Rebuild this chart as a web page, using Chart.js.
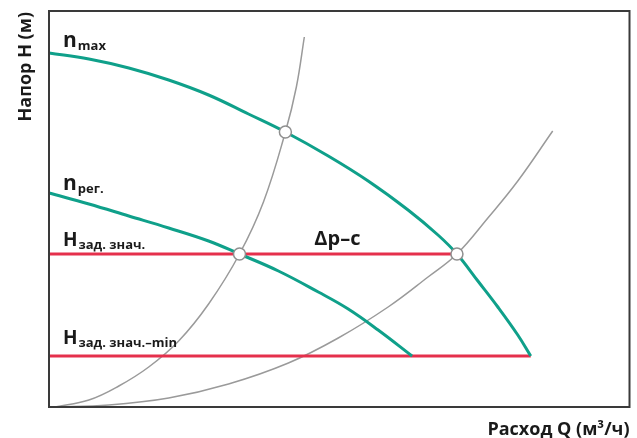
<!DOCTYPE html>
<html>
<head>
<meta charset="utf-8">
<script src="https://cdn.jsdelivr.net/npm/chart.js@4/dist/chart.umd.min.js"></script>
<style>
html,body{margin:0;padding:0;background:#fff;}
#wrap{width:637px;height:438px;position:relative;}
</style>
</head>
<body>
<div id="wrap"><canvas id="c" width="637" height="438"></canvas></div>
<script>
// Axis extents (arbitrary units, no ticks in the reference)
const xMax = 582;
const yMax = 396;

// Pump curve at maximum speed (n_max)
const nMaxQ = [0, 40, 80, 120, 160, 200, 237, 280, 320, 360, 390, 409, 430, 450, 470, 483];
const nMaxH = [354, 348, 339, 327, 312, 293, 275, 251, 226, 197, 172, 153, 126, 100, 72, 51];

// Pump curve at regulated speed (n_рег.)
const nRegQ = [0, 40, 80, 120, 160, 191, 230, 270, 300, 330, 364];
const nRegH = [214, 203, 191, 179, 166, 153, 136, 115, 98, 77, 51];

// System curve 1 (steep)
const sys1Q = [6, 40, 70, 100, 130, 160, 191, 215, 237, 248, 256];
const sys1H = [0, 7, 21, 40, 66, 103, 153, 205, 275, 320, 370];

// System curve 2 (flat)
const sys2Q = [4, 60, 120, 180, 240, 290, 340, 380, 409, 440, 470, 505];
const sys2H = [0, 2, 9, 23, 44, 69, 100, 130, 153, 189, 226, 276];

// Set-point lines
const hSetQ = [0, 409];
const hSet = 153;
const hMinQ = [0, 483];
const hMin = 51;

// Operating points
const opQ = [191, 237, 409];
const opH = [153, 275, 153];

// Labels
const labelNmax = ["n", "max"];
const labelNreg = ["n", "рег."];
const labelHset = ["H", "зад. знач."];
const labelHmin = ["H", "зад. знач.–min"];
const labelDp = "Δp–c";
const yTitle = "Напор H (м)";
const xTitle = "Расход Q (м³/ч)";

const zip = (xs, ys) => xs.map((x, i) => ({x: x, y: ys[i]}));
const flat = (xs, y) => xs.map(x => ({x: x, y: y}));

const GREEN = "#0fa08a";
const RED = "#e5304c";
const GRAY = "#9a9a9a";
const FONT = "'Open Sans', 'DejaVu Sans', sans-serif";

const textPlugin = {
  id: "texts",
  afterDraw(chart) {
    const ctx = chart.ctx;
    const a = chart.chartArea;
    const xs = chart.scales.x, ys = chart.scales.y;
    ctx.save();
    // frame
    ctx.strokeStyle = "#3a3a3a";
    ctx.lineWidth = 2;
    ctx.strokeRect(a.left, a.top, a.right - a.left, a.bottom - a.top);

    ctx.fillStyle = "#1a1a1a";
    ctx.textBaseline = "alphabetic";
    ctx.textAlign = "left";
    function sub(pair, x, y, big, small, drop) {
      ctx.font = "bold " + big + "px " + FONT;
      ctx.fillText(pair[0], x, y);
      const w = ctx.measureText(pair[0]).width;
      ctx.font = "bold " + small + "px " + FONT;
      ctx.fillText(pair[1], x + w + 1, y + drop);
    }
    const lx = a.left + 14;
    sub(labelNmax, lx, ys.getPixelForValue(nMaxH[0]) - 6, 21, 13, 3);
    sub(labelNreg, lx, ys.getPixelForValue(nRegH[0]) - 3, 21, 13, 3);
    sub(labelHset, lx, ys.getPixelForValue(hSet) - 8, 19, 13, 3);
    sub(labelHmin, lx, ys.getPixelForValue(hMin) - 12, 19, 13, 3);

    ctx.font = "bold 20px " + FONT;
    ctx.fillText(labelDp, xs.getPixelForValue(266), ys.getPixelForValue(hSet) - 9);

    // axis titles
    ctx.font = "bold 18px " + FONT;
    ctx.textAlign = "right";
    ctx.fillText(xTitle, a.right, 435);
    ctx.save();
    ctx.translate(31, a.top + 1);
    ctx.rotate(-Math.PI / 2);
    ctx.textAlign = "right";
    ctx.fillText(yTitle, 0, 0);
    ctx.restore();
    ctx.restore();
  }
};

const lineDs = (data, color, width, order) => ({
  data: data, showLine: true, borderColor: color, borderWidth: width,
  pointRadius: 0, pointHoverRadius: 0, fill: false,
  tension: 0.4, order: order, clip: false
});

new Chart(document.getElementById("c"), {
  type: "scatter",
  data: {
    datasets: [
      {
        data: zip(opQ, opH), showLine: false, pointRadius: 6, pointHoverRadius: 6,
        pointBackgroundColor: "#ffffff", pointBorderColor: "#8f8f8f", pointBorderWidth: 1.5, order: 0, clip: false
      },
      lineDs(zip(nMaxQ, nMaxH), GREEN, 3, 1),
      lineDs(zip(nRegQ, nRegH), GREEN, 3, 2),
      lineDs(flat(hSetQ, hSet), RED, 3, 3),
      lineDs(flat(hMinQ, hMin), RED, 3, 4),
      lineDs(zip(sys1Q, sys1H), GRAY, 1.5, 5),
      lineDs(zip(sys2Q, sys2H), GRAY, 1.5, 6)
    ]
  },
  options: {
    responsive: false,
    animation: false,
    devicePixelRatio: 1,
    layout: { padding: { left: 49, top: 11, right: 6, bottom: 31 } },
    plugins: { legend: { display: false }, tooltip: { enabled: false } },
    scales: {
      x: { type: "linear", min: 0, max: xMax, display: false },
      y: { type: "linear", min: 0, max: yMax, display: false }
    }
  },
  plugins: [textPlugin]
});
</script>
</body>
</html>
